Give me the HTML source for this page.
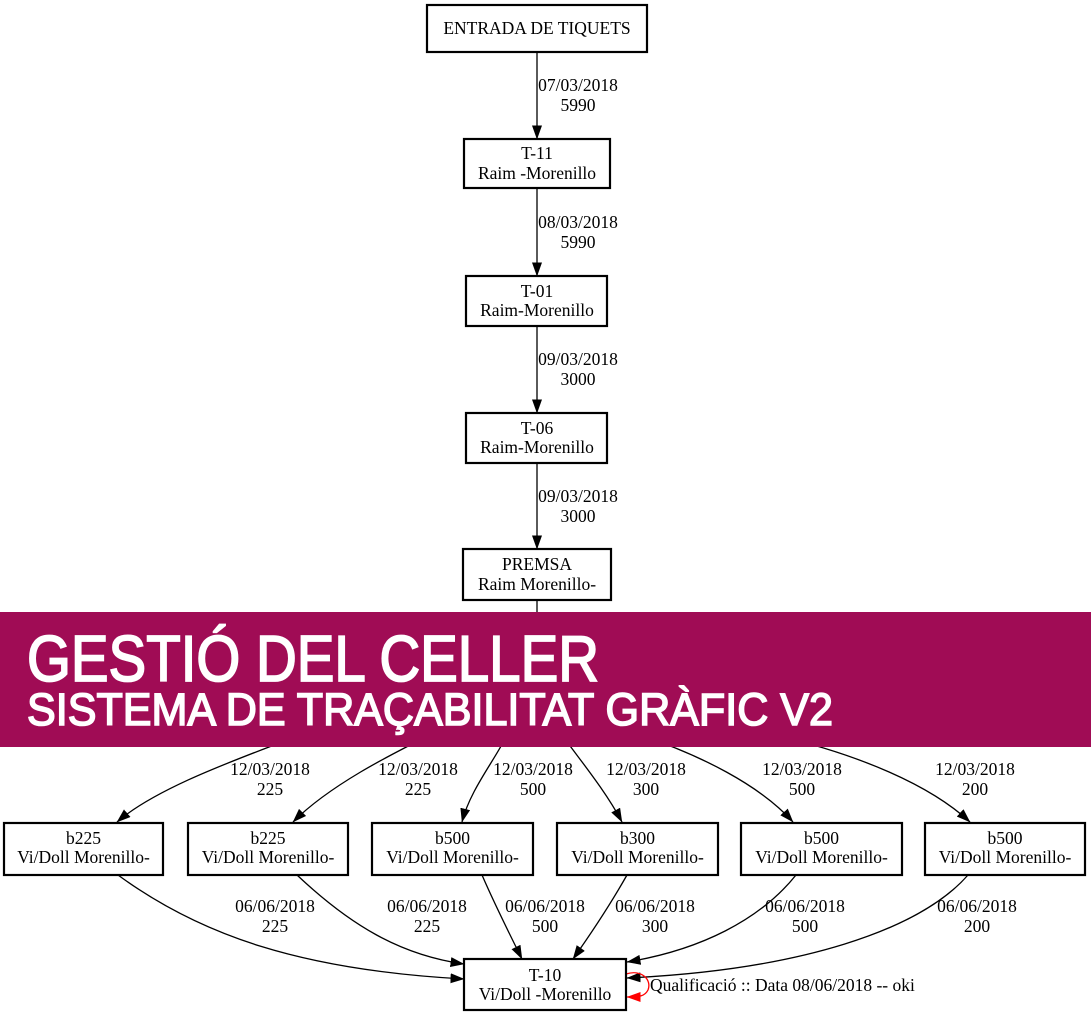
<!DOCTYPE html>
<html>
<head>
<meta charset="utf-8">
<style>
  html,body{margin:0;padding:0;background:#fff;}
  svg{display:block;}
  .t{font-family:"Liberation Serif","DejaVu Serif",serif;font-size:17.5px;fill:#000;}
  .n{fill:#fff;stroke:#000;stroke-width:2.2;}
  .e{fill:none;stroke:#000;stroke-width:1.3;}
</style>
</head>
<body>
<svg width="1091" height="1016" viewBox="0 0 1091 1016" xmlns="http://www.w3.org/2000/svg">
  <defs>
    <marker id="ah" markerUnits="userSpaceOnUse" markerWidth="14" markerHeight="10" refX="13.5" refY="5" orient="auto">
      <path d="M0,0 L14,5 L0,10 z" fill="#000"/>
    </marker>
    <marker id="ahr" markerUnits="userSpaceOnUse" markerWidth="14" markerHeight="10" refX="13.5" refY="5" orient="auto">
      <path d="M0,0 L14,5 L0,10 z" fill="#f00"/>
    </marker>
  </defs>
  <rect width="1091" height="1016" fill="#fff"/>

  <!-- vertical edges -->
  <path class="e" d="M537,52 V139" marker-end="url(#ah)"/>
  <path class="e" d="M537,188 V276" marker-end="url(#ah)"/>
  <path class="e" d="M537,326 V413" marker-end="url(#ah)"/>
  <path class="e" d="M537,463 V549" marker-end="url(#ah)"/>
  <path class="e" d="M537,600 V620"/>

  <!-- edges to bottom row -->
  <path class="e" d="M300,735 C250,755 160,785 117,822" marker-end="url(#ah)"/>
  <path class="e" d="M430,735 C390,755 330,785 293,822" marker-end="url(#ah)"/>
  <path class="e" d="M507,735 C495,760 470,790 462,822" marker-end="url(#ah)"/>
  <path class="e" d="M562,735 C580,760 605,790 622,822" marker-end="url(#ah)"/>
  <path class="e" d="M640,735 C700,755 760,785 793,822" marker-end="url(#ah)"/>
  <path class="e" d="M775,735 C860,755 930,785 970,822" marker-end="url(#ah)"/>

  <!-- edges to T-10 -->
  <path class="e" d="M118,875 C200,935 300,970 464,979" marker-end="url(#ah)"/>
  <path class="e" d="M297,875 C350,925 400,955 464,964" marker-end="url(#ah)"/>
  <path class="e" d="M482,875 C495,905 510,935 522,959" marker-end="url(#ah)"/>
  <path class="e" d="M627,875 C610,905 590,935 573,959" marker-end="url(#ah)"/>
  <path class="e" d="M796,875 C760,920 700,950 627,962" marker-end="url(#ah)"/>
  <path class="e" d="M968,875 C920,930 800,970 627,978" marker-end="url(#ah)"/>

  <!-- self loop -->
  <path d="M626,974 C642,969 652,980 648,990 C645,996 640,997 627,997" fill="none" stroke="#f00" stroke-width="1.3" marker-end="url(#ahr)"/>

  <!-- nodes -->
  <rect class="n" x="427" y="5" width="220" height="47"/>
  <text class="t" x="537" y="34" text-anchor="middle">ENTRADA DE TIQUETS</text>

  <rect class="n" x="464" y="139" width="146" height="49"/>
  <text class="t" x="537" y="159" text-anchor="middle">T-11</text>
  <text class="t" x="537" y="179" text-anchor="middle">Raim -Morenillo</text>

  <rect class="n" x="466" y="276" width="141" height="50"/>
  <text class="t" x="537" y="297" text-anchor="middle">T-01</text>
  <text class="t" x="537" y="316" text-anchor="middle">Raim-Morenillo</text>

  <rect class="n" x="466" y="413" width="141" height="50"/>
  <text class="t" x="537" y="434" text-anchor="middle">T-06</text>
  <text class="t" x="537" y="453" text-anchor="middle">Raim-Morenillo</text>

  <rect class="n" x="463" y="549" width="148" height="51"/>
  <text class="t" x="537" y="570" text-anchor="middle">PREMSA</text>
  <text class="t" x="537" y="590" text-anchor="middle">Raim Morenillo-</text>

  <!-- edge labels vertical -->
  <text class="t" x="578" y="91" text-anchor="middle">07/03/2018</text>
  <text class="t" x="578" y="111" text-anchor="middle">5990</text>
  <text class="t" x="578" y="228" text-anchor="middle">08/03/2018</text>
  <text class="t" x="578" y="248" text-anchor="middle">5990</text>
  <text class="t" x="578" y="365" text-anchor="middle">09/03/2018</text>
  <text class="t" x="578" y="385" text-anchor="middle">3000</text>
  <text class="t" x="578" y="502" text-anchor="middle">09/03/2018</text>
  <text class="t" x="578" y="522" text-anchor="middle">3000</text>

  <!-- bottom row nodes -->
  <rect class="n" x="4" y="823" width="159" height="52"/>
  <text class="t" x="83.5" y="844" text-anchor="middle">b225</text>
  <text class="t" x="83.5" y="863" text-anchor="middle">Vi/Doll Morenillo-</text>

  <rect class="n" x="188" y="823" width="160" height="52"/>
  <text class="t" x="268" y="844" text-anchor="middle">b225</text>
  <text class="t" x="268" y="863" text-anchor="middle">Vi/Doll Morenillo-</text>

  <rect class="n" x="372" y="823" width="161" height="52"/>
  <text class="t" x="452.5" y="844" text-anchor="middle">b500</text>
  <text class="t" x="452.5" y="863" text-anchor="middle">Vi/Doll Morenillo-</text>

  <rect class="n" x="557" y="823" width="161" height="52"/>
  <text class="t" x="637.5" y="844" text-anchor="middle">b300</text>
  <text class="t" x="637.5" y="863" text-anchor="middle">Vi/Doll Morenillo-</text>

  <rect class="n" x="741" y="823" width="161" height="52"/>
  <text class="t" x="821.5" y="844" text-anchor="middle">b500</text>
  <text class="t" x="821.5" y="863" text-anchor="middle">Vi/Doll Morenillo-</text>

  <rect class="n" x="925" y="823" width="160" height="52"/>
  <text class="t" x="1005" y="844" text-anchor="middle">b500</text>
  <text class="t" x="1005" y="863" text-anchor="middle">Vi/Doll Morenillo-</text>

  <!-- labels above bottom row -->
  <text class="t" x="270" y="775" text-anchor="middle">12/03/2018</text>
  <text class="t" x="270" y="795" text-anchor="middle">225</text>
  <text class="t" x="418" y="775" text-anchor="middle">12/03/2018</text>
  <text class="t" x="418" y="795" text-anchor="middle">225</text>
  <text class="t" x="533" y="775" text-anchor="middle">12/03/2018</text>
  <text class="t" x="533" y="795" text-anchor="middle">500</text>
  <text class="t" x="646" y="775" text-anchor="middle">12/03/2018</text>
  <text class="t" x="646" y="795" text-anchor="middle">300</text>
  <text class="t" x="802" y="775" text-anchor="middle">12/03/2018</text>
  <text class="t" x="802" y="795" text-anchor="middle">500</text>
  <text class="t" x="975" y="775" text-anchor="middle">12/03/2018</text>
  <text class="t" x="975" y="795" text-anchor="middle">200</text>

  <!-- labels below bottom row -->
  <text class="t" x="275" y="912" text-anchor="middle">06/06/2018</text>
  <text class="t" x="275" y="932" text-anchor="middle">225</text>
  <text class="t" x="427" y="912" text-anchor="middle">06/06/2018</text>
  <text class="t" x="427" y="932" text-anchor="middle">225</text>
  <text class="t" x="545" y="912" text-anchor="middle">06/06/2018</text>
  <text class="t" x="545" y="932" text-anchor="middle">500</text>
  <text class="t" x="655" y="912" text-anchor="middle">06/06/2018</text>
  <text class="t" x="655" y="932" text-anchor="middle">300</text>
  <text class="t" x="805" y="912" text-anchor="middle">06/06/2018</text>
  <text class="t" x="805" y="932" text-anchor="middle">500</text>
  <text class="t" x="977" y="912" text-anchor="middle">06/06/2018</text>
  <text class="t" x="977" y="932" text-anchor="middle">200</text>

  <!-- T-10 -->
  <rect class="n" x="464" y="959" width="162" height="51"/>
  <text class="t" x="545" y="981" text-anchor="middle">T-10</text>
  <text class="t" x="545" y="1000" text-anchor="middle">Vi/Doll -Morenillo</text>

  <text class="t" x="650" y="991">Qualificació :: Data 08/06/2018 -- oki</text>

  <!-- banner -->
  <rect x="0" y="612" width="1091" height="135" fill="#A00C55"/>
  <text x="27" y="681" textLength="572" lengthAdjust="spacingAndGlyphs"
        font-family="Liberation Sans, DejaVu Sans, sans-serif" font-size="65" fill="#fff"
        stroke="#fff" stroke-width="1.8">GESTIÓ DEL CELLER</text>
  <text x="27" y="725" textLength="806" lengthAdjust="spacingAndGlyphs"
        font-family="Liberation Sans, DejaVu Sans, sans-serif" font-size="45" fill="#fff"
        stroke="#fff" stroke-width="1.6">SISTEMA DE TRAÇABILITAT GRÀFIC V2</text>
</svg>
</body>
</html>
